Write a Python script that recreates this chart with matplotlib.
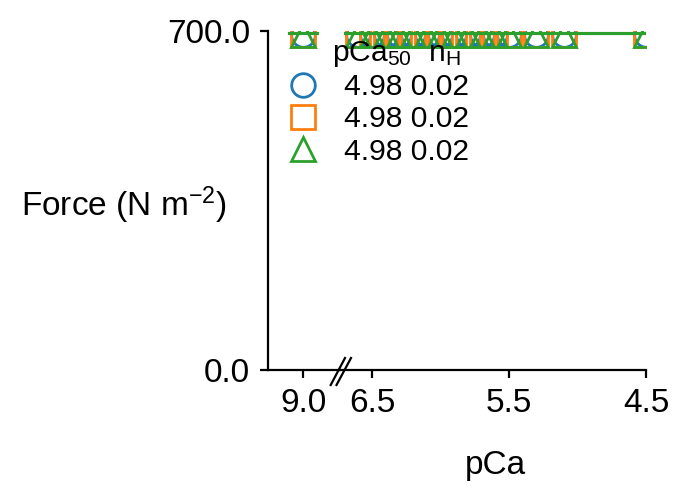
import matplotlib
matplotlib.use("Agg")
import matplotlib.pyplot as plt
from matplotlib.ticker import FormatStrFormatter, FixedLocator

plt.rcParams['font.family'] = ['Liberation Sans', 'DejaVu Sans']
plt.rcParams['mathtext.fontset'] = 'custom'
plt.rcParams['mathtext.rm'] = 'Liberation Sans'
plt.rcParams['mathtext.it'] = 'Liberation Sans:italic'
plt.rcParams['mathtext.bf'] = 'Liberation Sans:bold'
plt.rcParams['font.size'] = 12

# ---- data ----
pca_relax = [9.0]
pca_active = [6.6, 6.5, 6.4, 6.3, 6.2, 6.1, 6.0, 5.9, 5.8, 5.7, 5.6, 5.5, 5.3, 5.1, 4.5]
series_names = ["s1", "s2", "s3"]
force_relax = {"s1": [692], "s2": [692], "s3": [692]}
force_active = {
    "s1": [692] * 15,
    "s2": [692] * 15,
    "s3": [692] * 15,
}
fit_x_relax = [9.1, 8.9]
fit_x_active = [6.7, 4.5]
fit_force = {"s1": 695, "s2": 695, "s3": 695}
pca50 = ["4.98", "4.98", "4.98"]
nh = ["0.02", "0.02", "0.02"]
colors = ["#1f77b4", "#ff7f0e", "#2ca02c"]
markers = ["o", "s", "^"]
xticks_relax = [9.0]
xticks_active = [6.5, 5.5, 4.5]
yticks = [0.0, 700.0]

W, H = 688, 499
fig = plt.figure(figsize=(W / 200, H / 200), dpi=200)

def fx(px):
    return px / W

def fy(py):
    return 1 - py / H

x_left, x_mid, x_right = 268, 340, 646
y_top, y_bot = 31, 370
axL = fig.add_axes([fx(x_left), fy(y_bot), fx(x_mid) - fx(x_left), fy(y_top) - fy(y_bot)])
axR = fig.add_axes([fx(x_mid), fy(y_bot), fx(x_right) - fx(x_mid), fy(y_top) - fy(y_bot)])

ppu = 137.0
axL.set_xlim(9.0 + (303 - x_left) / ppu, 9.0 - (x_mid - 303) / ppu)
axR.set_xlim(6.5 + (372 - x_mid) / ppu, 4.5)
for ax in (axL, axR):
    ax.set_ylim(0, 700)
    ax.spines['top'].set_visible(False)
    ax.spines['right'].set_visible(False)
    ax.patch.set_alpha(0)
    for sp in ax.spines.values():
        sp.set_linewidth(0.8)
    ax.tick_params(length=3, width=0.8, labelsize=12)
axR.spines['left'].set_visible(False)
axR.tick_params(axis='y', left=False, labelleft=False)

axL.xaxis.set_major_locator(FixedLocator(xticks_relax))
axR.xaxis.set_major_locator(FixedLocator(xticks_active))
axL.xaxis.set_major_formatter(FormatStrFormatter('%.1f'))
axR.xaxis.set_major_formatter(FormatStrFormatter('%.1f'))
axL.yaxis.set_major_locator(FixedLocator(yticks))
axL.yaxis.set_major_formatter(FormatStrFormatter('%.1f'))

handles = []
for i, name in enumerate(series_names):
    kw = dict(color=colors[i], marker=markers[i], markerfacecolor='none',
              markersize=8.5, markeredgewidth=1.0, linestyle='none')
    axL.plot(pca_relax, force_relax[name], **kw)
    h, = axR.plot(pca_active, force_active[name], **kw)
    handles.append(h)
for i, name in enumerate(series_names):
    axL.plot(fit_x_relax, [fit_force[name]] * 2, color=colors[i], lw=1.1)
    axR.plot(fit_x_active, [fit_force[name]] * 2, color=colors[i], lw=1.1)

labels = [f"{a} {b}" for a, b in zip(pca50, nh)]
leg = fig.legend(handles, labels, title="pCa$_{\\mathrm{50}}$  n$_{\\mathrm{H}}$",
                 loc='upper left', bbox_to_anchor=(fx(288), fy(39)),
                 frameon=False, fontsize=10.8, title_fontsize=10.8,
                 labelspacing=0.14, handlelength=1.0, handletextpad=0.87,
                 borderpad=0.0, borderaxespad=0.0, alignment='left')
leg.get_title().set_x(44)

axL.set_ylabel("Force (N m$^{-2}$)", rotation=0, ha='center', va='center', fontsize=12)
axL.yaxis.set_label_coords((123.5 - x_left) / (x_mid - x_left), (y_bot - 205) / (y_bot - y_top))
axR.set_xlabel("pCa", fontsize=12)
axR.xaxis.set_label_coords((495 - x_mid) / (x_right - x_mid), (y_bot - 450) / (y_bot - y_top))

# axis break marks
wR = x_right - x_mid
hR = y_bot - y_top
for (xa, ya, xb, yb) in [(330.7, 385, 345, 358), (336.5, 385, 351, 358)]:
    axR.plot([(xa - x_mid) / wR, (xb - x_mid) / wR],
             [(y_bot - ya) / hR, (y_bot - yb) / hR],
             transform=axR.transAxes, color='black', lw=0.8, clip_on=False)

fig.savefig("out.png", dpi=200)
